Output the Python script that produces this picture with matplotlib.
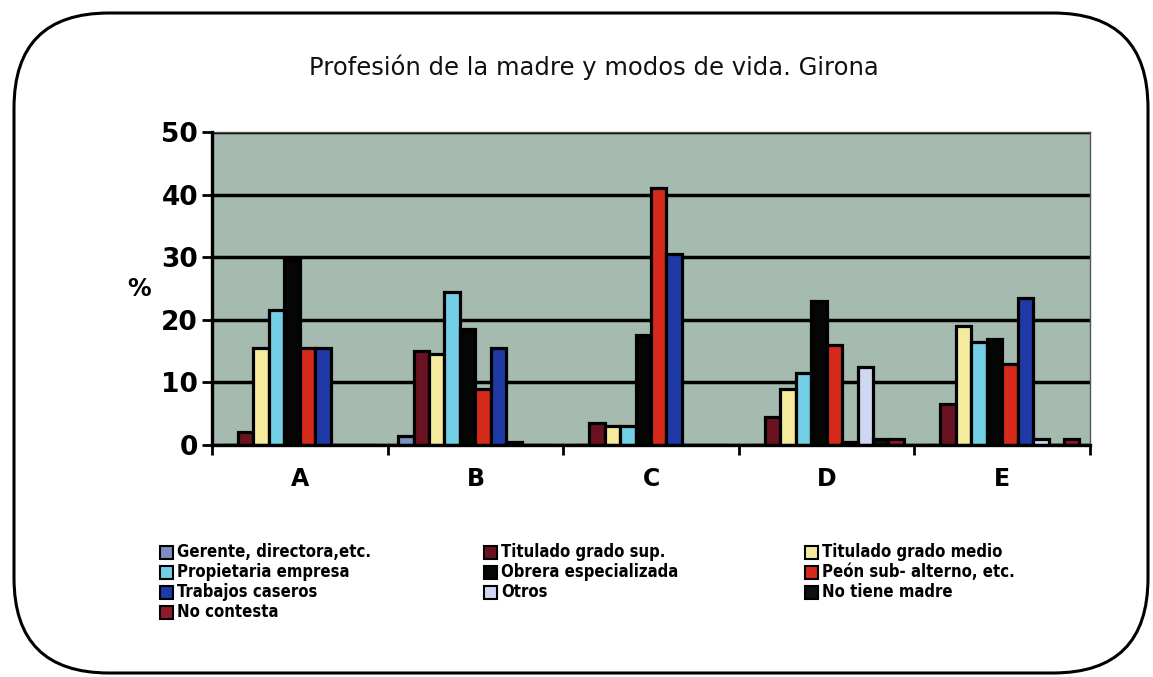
import matplotlib
matplotlib.use("Agg")
import matplotlib.pyplot as plt
from matplotlib import font_manager as fm
from matplotlib.patches import FancyBboxPatch, Rectangle
import numpy as np

# condensed bold font for legend, if available
_cond_path = fm.findfont(fm.FontProperties(family="DejaVu Sans", stretch="condensed", weight="bold"))
HAS_COND = "Condensed" in _cond_path
LEG_SIZE = 12 if HAS_COND else 11

# ---------------- data ----------------
categories = ["A", "B", "C", "D", "E"]
series_names = ["Gerente, directora,etc.", "Titulado grado sup.", "Titulado grado medio",
                "Propietaria empresa", "Obrera especializada", "Peón sub- alterno, etc.",
                "Trabajos caseros", "Otros", "No tiene madre", "No contesta"]
gerente = [0, 1.5, 0, 0, 0]
titulado_sup = [2, 15, 3.5, 4.5, 6.5]
titulado_medio = [15.5, 14.5, 3, 9, 19]
propietaria = [21.5, 24.5, 3, 11.5, 16.5]
obrera = [29.5, 18.5, 17.5, 23, 17]
peon = [15.5, 9, 41, 16, 13]
trabajos = [15.5, 15.5, 30.5, 0.5, 23.5]
otros = [0, 0.5, 0, 12.5, 1]
no_tiene = [0, 0, 0, 1, 0]
no_contesta = [0, 0, 0, 1, 1]
series_values = [gerente, titulado_sup, titulado_medio, propietaria, obrera,
                 peon, trabajos, otros, no_tiene, no_contesta]
yticks = [0, 10, 20, 30, 40, 50]

colors = ["#7c8fc4", "#6a1222", "#f4ec9c", "#72cfe6", "#050505",
          "#d62a1c", "#1f3aa6", "#cfd8f2", "#101010", "#8e1a2c"]

# ---------------- figure ----------------
W, H = 1153, 677
fig = plt.figure(figsize=(W / 100, H / 100), dpi=100)
fig.patch.set_facecolor("white")

# pixel-space overlay for rounded frame
bg = fig.add_axes([0, 0, 1, 1], zorder=-5)
bg.set_xlim(0, W)
bg.set_ylim(H, 0)
bg.axis("off")
bg.add_patch(FancyBboxPatch((14, 13), 1148 - 14, 673 - 13,
                            boxstyle="round,pad=0,rounding_size=95",
                            fill=False, edgecolor="black", linewidth=2.2))

ax = fig.add_axes([212 / W, (H - 445) / H, (1090 - 212) / W, (445 - 132) / H])
ax.set_facecolor("#a6bbb0")

n = len(series_names)
bw = 0.088
x = np.arange(len(categories))
for i, (vals, col) in enumerate(zip(series_values, colors)):
    ax.bar(x + (i - (n - 1) / 2) * bw, vals, width=bw, color=col,
           edgecolor="black", linewidth=2.3, zorder=3)

ax.set_xlim(-0.5, len(categories) - 0.5)
ax.set_ylim(0, 50)
ax.set_yticks(yticks)
ax.set_yticklabels([str(t) for t in yticks], fontsize=19, fontweight="bold")
ax.set_xticks(x)
ax.set_xticklabels(categories, fontsize=17, fontweight="bold")
ax.set_xticks(np.arange(-0.5, len(categories)), minor=True)
ax.tick_params(axis="x", which="major", length=0, pad=16)
ax.tick_params(axis="x", which="minor", length=7, width=2, direction="out")
ax.tick_params(axis="y", length=7, width=2, direction="out", pad=3)

ax.yaxis.grid(True, color="black", linewidth=2.5, zorder=1)
ax.set_axisbelow(True)
for s in ["top", "right"]:
    ax.spines[s].set_color("#555555")
    ax.spines[s].set_linewidth(1.0)
for s in ["left", "bottom"]:
    ax.spines[s].set_color("black")
    ax.spines[s].set_linewidth(2.4)
    ax.spines[s].set_zorder(4)

ax.set_ylabel("%", fontsize=17, fontweight="bold", rotation=0, labelpad=16, va="center")

fig.text(594 / W, 1 - 67 / H, "Profesión de la madre y modos de vida. Girona",
         ha="center", va="center", fontsize=17.5, color="#111111")

# ---------------- legend (row-wise, 3 columns) ----------------
col_x = [160, 484, 805]
row_y = [552, 572, 592, 612]
for k, (name, col) in enumerate(zip(series_names, colors)):
    r, c = divmod(k, 3)
    sx, sy = col_x[c], row_y[r]
    fig.patches.append(Rectangle((sx / W, 1 - (sy + 6.5) / H), 13 / W, 13 / H,
                                 transform=fig.transFigure, facecolor=col,
                                 edgecolor="black", linewidth=1.5))
    fig.text((sx + 17) / W, 1 - sy / H, name, ha="left", va="center",
             fontsize=LEG_SIZE, fontweight="bold", family="DejaVu Sans",
             fontstretch="condensed")

fig.savefig("out.png", dpi=100)
